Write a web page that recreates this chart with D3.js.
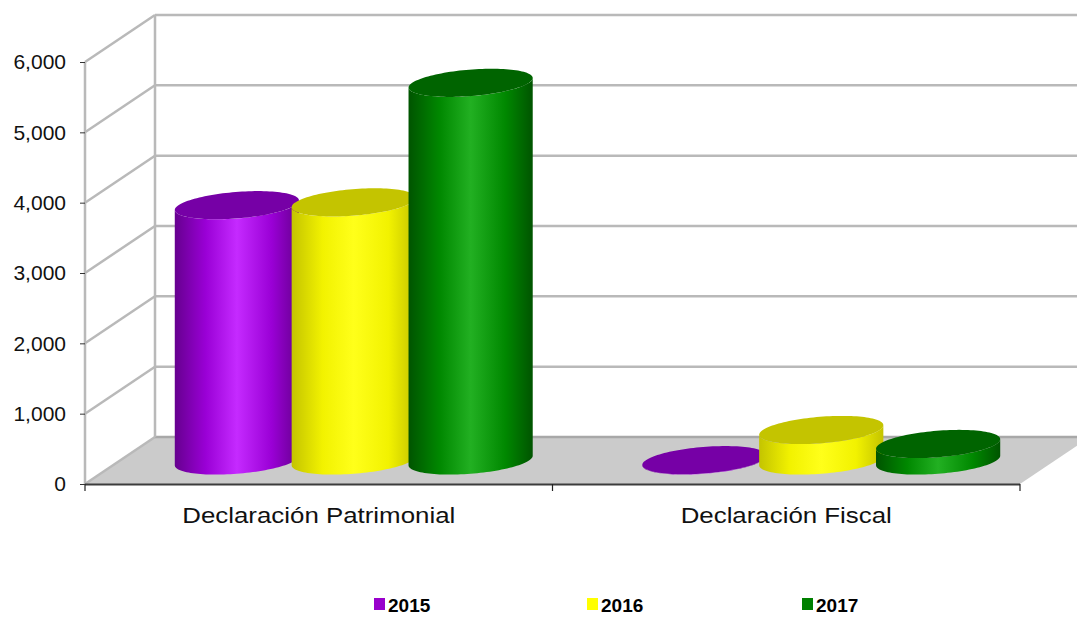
<!DOCTYPE html>
<html>
<head>
<meta charset="utf-8">
<script src="https://cdn.jsdelivr.net/npm/d3@7"></script>
<style>
  html, body { margin: 0; padding: 0; background: #ffffff; }
  svg { display: block; font-family: "Liberation Sans", Arial, sans-serif; }
</style>
</head>
<body>
<svg id="chart" width="1077" height="617"></svg>
<script>
// Declarations filed per year
const categories = ["Declaración Patrimonial", "Declaración Fiscal"];
const seriesNames = ["2015", "2016", "2017"];
const values2015 = [3630, 5];
const values2016 = [3670, 434];
const values2017 = [5370, 235];
const yTicks = [0, 1000, 2000, 3000, 4000, 5000, 6000];

const seriesValues = [values2015, values2016, values2017];

// colour ramps for each cylinder
const palette = [
  { edge: "#66008f", mid: "#9a00d6", hi: "#c52aff", top: "#7600a6", key: "#9900cc" },
  { edge: "#c4c400", mid: "#f2f200", hi: "#ffff1a", top: "#c4c400", key: "#ffff00" },
  { edge: "#005400", mid: "#008800", hi: "#22b022", top: "#006400", key: "#008000" }
];

const svg = d3.select("#chart");

// oblique projection: depth runs up and to the right
const depthDX = 70, depthDY = -47;
const x0 = 85, x1 = 1020;

const x = d3.scaleBand().domain(categories).range([x0, x1]).paddingInner(0).paddingOuter(0);
const xs = d3.scaleBand().domain(seriesNames).range([0, x.bandwidth()]).paddingOuter(0.5);
const y = d3.scaleLinear().domain([0, 6000]).range([484, 62]);

const proj = (px, v, z) => [px + z * depthDX, y(v) + z * depthDY];

// floor
svg.append("path")
  .attr("d", d3.line()([proj(x0, 0, 0), proj(x1, 0, 0), proj(x1, 0, 1), proj(x0, 0, 1)]))
  .attr("fill", "#cbcbcb");

// back wall and side wall gridlines
const grid = svg.append("g").attr("stroke", "#b9b9b9").attr("stroke-width", 2.5).attr("fill", "none");
yTicks.forEach(t => {
  grid.append("line")
    .attr("x1", proj(x0, t, 1)[0]).attr("y1", proj(x0, t, 1)[1])
    .attr("x2", 1100).attr("y2", proj(x0, t, 1)[1])
    .attr("stroke", t === 0 ? "#a8a8a8" : "#b9b9b9");
  grid.append("line")
    .attr("x1", proj(x0, t, 0)[0]).attr("y1", proj(x0, t, 0)[1])
    .attr("x2", proj(x0, t, 1)[0]).attr("y2", proj(x0, t, 1)[1]);
});
grid.append("line")
  .attr("x1", proj(x0, 0, 1)[0]).attr("y1", proj(x0, 0, 1)[1])
  .attr("x2", proj(x0, 6000, 1)[0]).attr("y2", proj(x0, 6000, 1)[1]);
grid.append("line")
  .attr("x1", x0).attr("y1", y(0))
  .attr("x2", x0).attr("y2", y(6000));

// cylinders
const defs = svg.append("defs");
const radius = xs.bandwidth() / 2;
const zc = 0.5, zr = 0.3;
const a = zr * depthDX;
const th0 = Math.atan2(a, radius);

function ellipsePoint(cx, v, t) {
  const px = cx + radius * Math.cos(t);
  const z = zc + zr * Math.sin(t);
  return proj(px, v, z);
}
function arcPoints(cx, v, from, to, n) {
  const pts = [];
  for (let i = 0; i <= n; i++) pts.push(ellipsePoint(cx, v, from + (to - from) * i / n));
  return pts;
}

const cylG = svg.append("g");
categories.forEach((cat, ci) => {
  seriesNames.forEach((s, si) => {
    const v = seriesValues[si][ci];
    const cx = x(cat) + xs(s) + radius;
    const col = palette[si];
    const gid = `shade-${ci}-${si}`;
    const left = ellipsePoint(cx, 0, th0 + Math.PI)[0];
    const right = ellipsePoint(cx, 0, th0)[0];
    const grad = defs.append("linearGradient").attr("id", gid)
      .attr("gradientUnits", "userSpaceOnUse")
      .attr("x1", left).attr("x2", right).attr("y1", 0).attr("y2", 0);
    [[0, col.edge], [0.25, col.mid], [0.5, col.hi], [0.78, col.mid], [1, col.edge]]
      .forEach(([o, c]) => grad.append("stop").attr("offset", o).attr("stop-color", c));

    const bottom = arcPoints(cx, 0, th0 + Math.PI, th0 + 2 * Math.PI, 60);
    const top = arcPoints(cx, v, th0 + 2 * Math.PI, th0 + Math.PI, 60);
    cylG.append("path")
      .attr("d", d3.line()(bottom.concat(top)) + "Z")
      .attr("fill", `url(#${gid})`);
    cylG.append("path")
      .attr("d", d3.line()(arcPoints(cx, v, 0, 2 * Math.PI, 120)) + "Z")
      .attr("fill", col.top);
  });
});

// front baseline and category boundaries
const axisG = svg.append("g");
axisG.append("line")
  .attr("x1", x0).attr("x2", x1).attr("y1", y(0) + 0.5).attr("y2", y(0) + 0.5)
  .attr("stroke", "#3c3c3c").attr("stroke-width", 2);
[x0, x(categories[1]), x1].forEach(bx => {
  axisG.append("line")
    .attr("x1", bx).attr("x2", bx).attr("y1", y(0)).attr("y2", y(0) + 7)
    .attr("stroke", "#222").attr("stroke-width", 1.2);
});

const xAxis = svg.append("g")
  .attr("transform", `translate(0,${y(0)})`)
  .call(d3.axisBottom(x).tickSize(0).tickPadding(23));
xAxis.select(".domain").remove();
xAxis.selectAll("text")
  .attr("font-family", "Liberation Sans, Arial, sans-serif")
  .attr("font-size", 22).attr("fill", "#111")
  .each(function () {
    // labels are set a little wider than the face's natural advance
    const w = this.getComputedTextLength();
    d3.select(this).attr("textLength", w * 1.175).attr("lengthAdjust", "spacingAndGlyphs");
  });

// value axis
const yAxis = svg.append("g")
  .attr("transform", `translate(${x0},0)`)
  .call(d3.axisLeft(y).tickValues(yTicks).tickFormat(d3.format(",")).tickSize(5).tickSizeOuter(0).tickPadding(14));
yAxis.select(".domain").remove();
yAxis.selectAll(".tick line").attr("stroke", "#333");
yAxis.selectAll("text")
  .attr("font-family", "Liberation Sans, Arial, sans-serif")
  .attr("font-size", 21).attr("fill", "#111");

// legend
const legendX = [374, 587, 802];
const legend = svg.append("g");
seriesNames.forEach((s, i) => {
  const g = legend.append("g").attr("transform", `translate(${legendX[i]},598)`);
  g.append("rect").attr("width", 11).attr("height", 12).attr("fill", palette[i].key);
  g.append("text").attr("x", 14).attr("y", 14)
    .attr("font-size", 19).attr("font-weight", "bold").attr("fill", "#000").text(s);
});
</script>
</body>
</html>
